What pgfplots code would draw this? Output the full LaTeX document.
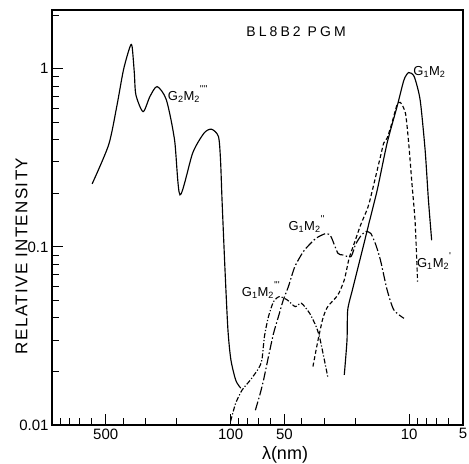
\documentclass[border=0pt]{standalone}
\usepackage{pgfplots}
\pgfplotsset{compat=1.18}
\usepackage{fontspec}
\setmainfont{Liberation Sans}
\newcommand{\GM}[2]{G\textsubscript{#1}M\textsubscript{2}\raisebox{0.62em}{\fontsize{10}{10}\selectfont #2}}
\newcommand{\pr}{\textquotesingle}
\begin{document}
\begin{tikzpicture}
\begin{axis}[
  name=ax,
  scale only axis, width=411pt, height=415pt,
  xmode=log, ymode=log, x dir=reverse,
  xmin=5, xmax=1000, ymin=0.01, ymax=2.14,
  xtick={5,10,50,100,500}, xticklabels={5,10,50,100,500},
  minor xtick={6,7,8,9,20,30,40,60,70,80,90,200,300,400,600,700,800,900},
  ytick={0.01,0.1,1}, yticklabels={0.01,0.1,1},
  minor ytick={0.02,0.03,0.04,0.05,0.06,0.07,0.08,0.09,0.2,0.3,0.4,0.5,0.6,0.7,0.8,0.9,2},
  xtick pos=left, ytick pos=left,
  tick align=inside,
  major tick length=11pt, minor tick length=7pt,
  axis line style={line width=1.4pt},
  every tick/.style={black, line width=1pt},
  tick label style={font=\fontsize{15}{16}\selectfont},
  /pgf/number format/assume math mode=true,
]
% G2 M2'''' (solid, left)
\addplot[black, line width=1.15pt, smooth, tension=0.45] table {
596 0.226
482 0.374
434 0.614
398 0.987
366 1.33
356 1.33
346 0.95
339 0.714
309 0.575
283 0.699
258 0.795
229 0.670
206 0.399
192 0.196
163 0.337
141 0.435
128 0.458
117 0.417
113.9 0.308
111.7 0.184
107.5 0.0743
103.5 0.0342
99.6 0.0232
93.5 0.0178
87.7 0.0161
};
% G1 M2''' (dash-dot)
\addplot[black, line width=1.15pt, smooth, tension=0.4, dash pattern=on 5pt off 2pt on 1.2pt off 2pt] table {
100 0.0105
93.8 0.0132
86.3 0.0157
77.5 0.0179
69.7 0.0208
66.8 0.0232
64.6 0.0316
61.4 0.0406
57.5 0.0493
53.3 0.0526
48.2 0.0504
43.5 0.0462
40.2 0.0483
36.1 0.0424
33.2 0.0357
31.8 0.0313
30.4 0.0253
28.6 0.0187
};
% G1 M2'' (long dash-dot)
\addplot[black, line width=1.15pt, smooth, tension=0.4, dash pattern=on 9pt off 2.5pt on 1.5pt off 2.5pt] table {
72.7 0.0121
68.2 0.0151
65.4 0.0179
61.4 0.0242
57.5 0.0327
54.0 0.0406
50.7 0.0504
47.5 0.0598
43.7 0.0775
39.3 0.0937
36.9 0.101
33.2 0.112
29.2 0.119
27.4 0.114
25.1 0.0922
23.6 0.0902
21.2 0.0882
20.0 0.103
18.7 0.115
17.5 0.122
16.4 0.119
15.4 0.103
14.5 0.0845
13.3 0.0574
12.2 0.0443
10.7 0.0397
};
% G1 M2' (dashed)
\addplot[black, line width=1.15pt, smooth, tension=0.4, dash pattern=on 4pt off 2.5pt] table {
34.6 0.0213
32.4 0.0300
30.4 0.0399
28.6 0.0462
25.1 0.0537
23.1 0.0653
21.7 0.0864
20.3 0.105
18.7 0.133
17.1 0.165
16.4 0.192
14.5 0.321
13.9 0.383
13.3 0.408
12.5 0.496
11.7 0.628
11.2 0.647
10.5 0.564
10.07 0.383
9.66 0.228
9.26 0.136
8.98 0.0638
};
% G1 M2 (solid)
\addplot[black, line width=1.15pt, smooth, tension=0.4] table {
23.1 0.0191
22.3 0.0300
22.1 0.0443
20.8 0.0574
19.1 0.0810
17.9 0.105
16.8 0.136
15.1 0.209
13.3 0.383
11.7 0.614
10.7 0.867
10.07 0.953
9.38 0.905
8.69 0.670
8.15 0.351
7.81 0.184
7.49 0.109
};
\node[font=\fontsize{14}{15}\selectfont\addfontfeature{LetterSpace=22}] at (axis cs:43,1.61) {BL8B2 PGM};
\node[anchor=west, font=\fontsize{13}{14}\selectfont, inner sep=0pt] at (axis cs:225,0.72) {\GM{2}{\pr\pr\pr\pr}};
\node[anchor=west, font=\fontsize{13}{14}\selectfont, inner sep=0pt] at (axis cs:9.5,0.96) {G\textsubscript{1}M\textsubscript{2}};
\node[anchor=west, font=\fontsize{13}{14}\selectfont, inner sep=0pt] at (axis cs:47.5,0.135) {\GM{1}{\pr\pr}};
\node[anchor=west, font=\fontsize{13}{14}\selectfont, inner sep=0pt] at (axis cs:86.6,0.0574) {\GM{1}{\pr\pr\pr}};
\node[anchor=west, font=\fontsize{13}{14}\selectfont, inner sep=0pt] at (axis cs:9.06,0.0834) {\GM{1}{\pr}};
\end{axis}
\path (ax.south west) ++(-30.5pt,169pt) node[rotate=90, font=\fontsize{17}{18}\selectfont\addfontfeature{LetterSpace=8}] {RELATIVE INTENSITY};
\path (ax.south west) ++(233pt,-30pt) node[font=\fontsize{18}{19}\selectfont] {λ(nm)};
\path (ax.south west) ++(-52pt,-39pt) coordinate (bl);
\path (ax.north east) ++(6pt,10pt) coordinate (tr);
\pgfresetboundingbox
\path[use as bounding box] (bl) rectangle (tr);
\end{tikzpicture}
\end{document}
